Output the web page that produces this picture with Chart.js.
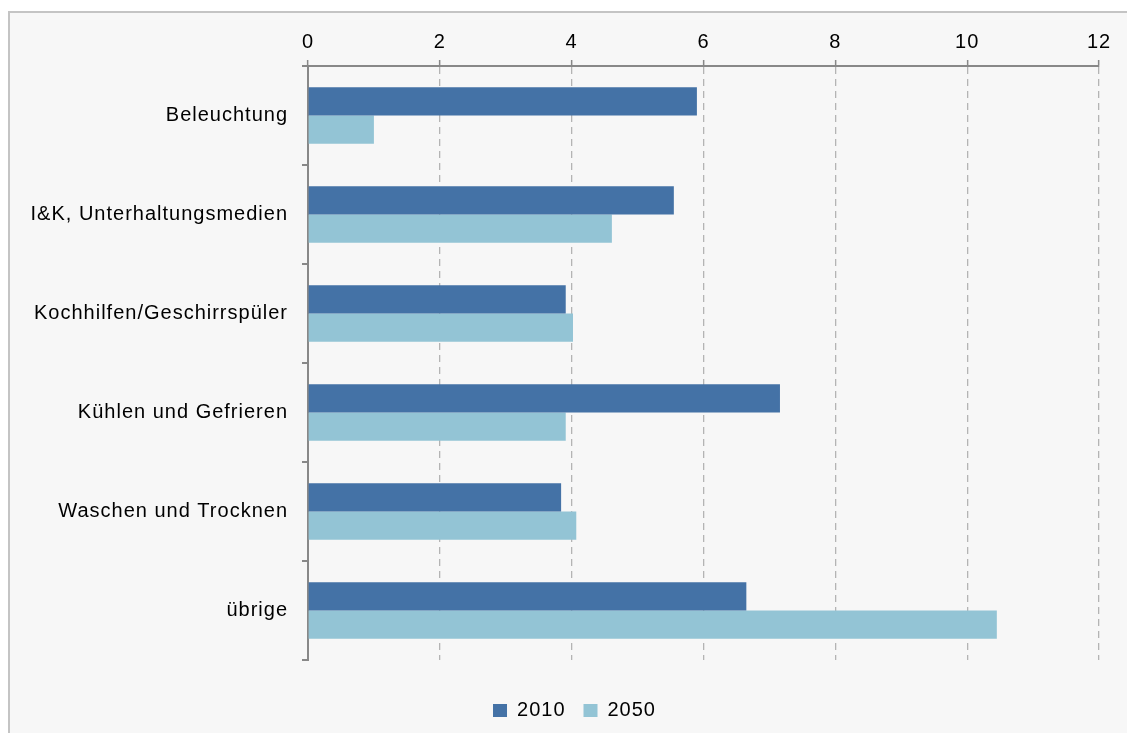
<!DOCTYPE html>
<html>
<head>
<meta charset="utf-8">
<script src="https://cdn.jsdelivr.net/npm/chart.js@4/dist/chart.umd.min.js"></script>
<style>
  html, body { margin: 0; padding: 0; background: #ffffff; width: 1127px; height: 733px; overflow: hidden; }
  #frame { position: absolute; left: 8px; top: 11px; width: 1300px; height: 900px; border: 2px solid #c4c4c4; background: #f7f7f7; }
  #wrap { position: absolute; left: 0; top: 0; width: 1127px; height: 733px; }
</style>
</head>
<body>
<div id="frame"></div>
<div id="wrap"><canvas id="c" width="1127" height="733"></canvas></div>
<script>
const categories = ["Beleuchtung", "I&K, Unterhaltungsmedien", "Kochhilfen/Geschirrspüler", "Kühlen und Gefrieren", "Waschen und Trocknen", "übrige"];
const seriesNames = ["2010", "2050"];
const values2010 = [5.90, 5.55, 3.91, 7.16, 3.84, 6.65];
const values2050 = [1.00, 4.61, 4.02, 3.91, 4.07, 10.45];
const xTicks = [0, 2, 4, 6, 8, 10, 12];
const colors = ["#4472A6", "#93C4D5"];

const spacingPlugin = {
  id: 'spacing',
  beforeUpdate(chart) { chart.ctx.letterSpacing = '1px'; },
  beforeDraw(chart) { chart.ctx.letterSpacing = '1px'; }
};

Chart.defaults.font.family = "'Liberation Sans', Arial, sans-serif";
Chart.defaults.font.size = 20;
Chart.defaults.color = '#000000';

new Chart(document.getElementById('c'), {
  type: 'bar',
  data: {
    labels: categories,
    datasets: [
      { label: seriesNames[0], data: values2010, backgroundColor: colors[0], borderWidth: 0, barPercentage: 1.0, categoryPercentage: 0.57 },
      { label: seriesNames[1], data: values2050, backgroundColor: colors[1], borderWidth: 0, barPercentage: 1.0, categoryPercentage: 0.57 }
    ]
  },
  plugins: [spacingPlugin],
  options: {
    indexAxis: 'y',
    responsive: false,
    animation: false,
    devicePixelRatio: 1,
    layout: { padding: { left: 50, right: 28, top: 0, bottom: 2.5 } },
    scales: {
      x: {
        position: 'top',
        min: 0, max: 12,
        afterBuildTicks(scale) { scale.ticks = xTicks.map(v => ({ value: v })); },
        afterFit(scale) { scale.height = 66; },
        ticks: { padding: 6, font: { size: 20 }, color: '#000' },
        grid: { color: '#b4b4b4', lineWidth: 1.3, tickColor: '#888888', tickLength: 6, tickWidth: 1.5, tickBorderDash: [] },
        border: { display: true, color: '#888888', width: 2, dash: [7, 5] }
      },
      y: {
        afterFit(scale) {
          scale.width = 258;
          scale._computeLabelArea = () => undefined;
        },
        ticks: { padding: 14, font: { size: 20 }, color: '#000' },
        grid: { drawOnChartArea: false, color: '#888888', tickLength: 6, lineWidth: 2, offset: true },
        border: { display: true, color: '#888888', width: 2 }
      }
    },
    plugins: {
      legend: {
        position: 'bottom',
        title: { display: true, text: ' ', font: { size: 10, lineHeight: 1 }, padding: { top: 12.5, bottom: 0 } },
        labels: { boxWidth: 14, boxHeight: 13, padding: 18, font: { size: 20 }, color: '#000' }
      },
      tooltip: { enabled: false }
    }
  }
});
</script>
</body>
</html>
